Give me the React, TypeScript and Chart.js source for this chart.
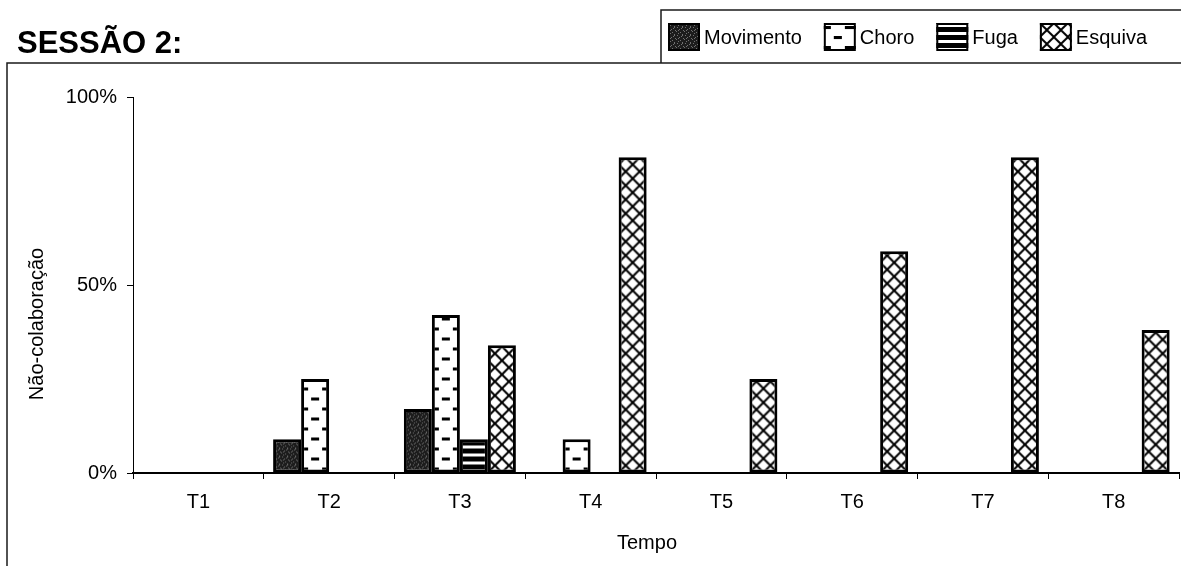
import React, { useEffect, useRef } from 'react';
import { Chart, registerables } from 'chart.js';

Chart.register(...registerables);

const categories = ['T1', 'T2', 'T3', 'T4', 'T5', 'T6', 'T7', 'T8'];
const seriesNames = ['Movimento', 'Choro', 'Fuga', 'Esquiva'];
const movimento = [0, 9, 17, 0, 0, 0, 0, 0];
const choro = [0, 25, 42, 9, 0, 0, 0, 0];
const fuga = [0, 0, 9, 0, 0, 0, 0, 0];
const esquiva = [0, 0, 34, 84, 25, 59, 84, 38];
const yTicks = [0, 50, 100];
const chartTitle = 'SESSÃO 2:';
const xTitle = 'Tempo';
const yTitle = 'Não-colaboração';

const FONT = '"Liberation Sans", Arial, Helvetica, sans-serif';
const kinds = ['movimento', 'choro', 'fuga', 'esquiva'];

function makeTile(kind: string): HTMLCanvasElement {
  const c = document.createElement('canvas');
  const g = c.getContext('2d')!;
  if (kind === 'movimento') {
    c.width = 8; c.height = 8;
    g.fillStyle = '#1c1c1c'; g.fillRect(0, 0, 8, 8);
    g.fillStyle = '#707070';
    const pts = [[1, 0], [5, 1], [3, 2], [7, 3], [0, 4], [4, 5], [2, 6], [6, 7], [6, 0], [2, 3]];
    pts.forEach(([x, y]) => g.fillRect(x, y, 1, 1));
  } else if (kind === 'choro') {
    c.width = 28; c.height = 20;
    g.fillStyle = '#fff'; g.fillRect(0, 0, 28, 20);
    g.fillStyle = '#000';
    g.fillRect(10, 5, 8, 3);
    g.fillRect(0, 15, 7, 3); g.fillRect(21, 15, 7, 3);
  } else if (kind === 'fuga') {
    c.width = 4; c.height = 8;
    g.fillStyle = '#fff'; g.fillRect(0, 0, 4, 8);
    g.fillStyle = '#000'; g.fillRect(0, 0, 4, 5);
  } else {
    c.width = 14; c.height = 14;
    g.fillStyle = '#fff'; g.fillRect(0, 0, 14, 14);
    g.strokeStyle = '#000'; g.lineWidth = 2;
    g.beginPath();
    g.moveTo(-1, -1); g.lineTo(15, 15);
    g.moveTo(15, -1); g.lineTo(-1, 15);
    g.stroke();
  }
  return c;
}

export default function App() {
  const ref = useRef<HTMLCanvasElement>(null);

  useEffect(() => {
    const canvas = ref.current!;
    const ctx0 = canvas.getContext('2d')!;
    const series = [movimento, choro, fuga, esquiva];
    const tiles = kinds.map(makeTile);
    const barPatterns = series.map((d, i) => d.map(() => ctx0.createPattern(tiles[i], 'repeat')!));
    const legendPatterns = tiles.map((t) => ctx0.createPattern(t, 'repeat')!);

    const decor = {
      id: 'decor',
      beforeDatasetsDraw(chart: any) {
        chart.data.datasets.forEach((_ds: any, i: number) => {
          const meta = chart.getDatasetMeta(i);
          meta.data.forEach((bar: any, j: number) => {
            const left = bar.x - bar.width / 2;
            barPatterns[i][j].setTransform(new DOMMatrix().translate(left, bar.base));
          });
        });
      },
      afterDraw(chart: any) {
        const ctx = chart.ctx as CanvasRenderingContext2D;
        ctx.save();
        // title
        ctx.fillStyle = '#000';
        ctx.font = `bold 31px ${FONT}`;
        ctx.textAlign = 'left';
        ctx.textBaseline = 'alphabetic';
        ctx.fillText(chartTitle, 17, 53);
        // frame
        ctx.strokeStyle = '#1a1a1a';
        ctx.lineWidth = 1.5;
        ctx.beginPath();
        ctx.moveTo(7, 566); ctx.lineTo(7, 63); ctx.lineTo(1181, 63);
        ctx.moveTo(661, 63); ctx.lineTo(661, 10); ctx.lineTo(1181, 10);
        ctx.stroke();
        // legend
        ctx.font = `20px ${FONT}`;
        ctx.textBaseline = 'middle';
        let x = 668;
        seriesNames.forEach((name, i) => {
          const p = legendPatterns[i];
          p.setTransform(new DOMMatrix().translate(x, 51));
          ctx.fillStyle = p;
          ctx.fillRect(x, 23, 32, 28);
          ctx.strokeStyle = '#000';
          ctx.lineWidth = 2;
          ctx.strokeRect(x + 1, 24, 30, 26);
          ctx.fillStyle = '#000';
          ctx.fillText(name, x + 36, 38);
          x += 36 + ctx.measureText(name).width + 22;
        });
        // axis titles
        ctx.textAlign = 'center';
        ctx.fillText(xTitle, 647, 543);
        ctx.translate(37, 324);
        ctx.rotate(-Math.PI / 2);
        ctx.fillText(yTitle, 0, 0);
        ctx.restore();
      },
    };

    const chart = new Chart(canvas, {
      type: 'bar',
      data: {
        labels: categories,
        datasets: series.map((d, i) => ({
          label: seriesNames[i],
          data: d,
          backgroundColor: barPatterns[i],
          borderColor: '#000',
          borderWidth: 3,
          borderSkipped: false,
          categoryPercentage: 0.857,
          barPercentage: 1,
        })),
      },
      options: {
        responsive: false,
        animation: false,
        layout: { padding: { top: 97, right: 2, left: 0, bottom: 0 } },
        plugins: {
          legend: { display: false },
          title: { display: false },
          tooltip: { enabled: false },
        },
        scales: {
          x: {
            grid: { display: true, drawOnChartArea: false, drawTicks: true, tickLength: 6, tickColor: '#000', offset: true },
            border: { display: true, color: '#000', width: 2 },
            ticks: { color: '#000', font: { family: FONT, size: 20 }, padding: 11 },
            afterFit: (s: any) => { s.height = 93; },
          },
          y: {
            min: 0,
            max: 100,
            afterBuildTicks: (s: any) => { s.ticks = yTicks.map((v) => ({ value: v })); },
            ticks: { color: '#000', font: { family: FONT, size: 20 }, padding: 10, callback: (v: any) => v + '%' },
            grid: { drawOnChartArea: false, drawTicks: true, tickLength: 6, tickColor: '#000' },
            border: { display: true, color: '#000', width: 1 },
            afterFit: (s: any) => { s.width = 133; },
          },
        },
      } as any,
      plugins: [decor],
    });
    return () => chart.destroy();
  }, []);

  return (
    <div style={{ position: 'fixed', left: 0, top: 0, width: 1181, height: 566, background: '#fff' }}>
      <canvas ref={ref} width={1181} height={566} style={{ display: 'block' }} />
    </div>
  );
}
